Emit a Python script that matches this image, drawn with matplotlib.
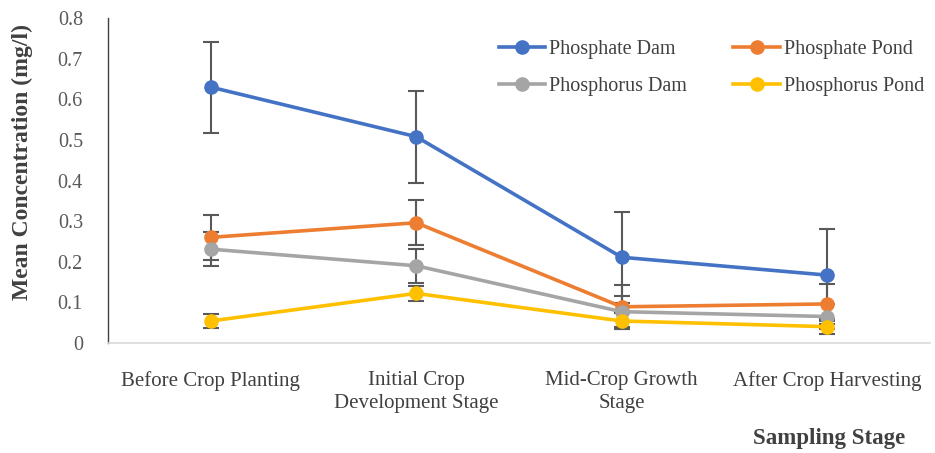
import numpy as np
import matplotlib
matplotlib.use("Agg")
import matplotlib.pyplot as plt

plt.rcParams["font.family"] = ["Liberation Serif", "DejaVu Serif"]

# --- dados: concentração média por estágio de amostragem ---
estagios = ["Before Crop Planting", "Initial Crop\nDevelopment Stage",
            "Mid-Crop Growth\nStage", "After Crop Harvesting"]

fosfato_barragem = [0.630, 0.508, 0.211, 0.167]
fosfato_barragem_err = [0.112, 0.113, 0.112, 0.113]

fosfato_lagoa = [0.260, 0.296, 0.089, 0.096]
fosfato_lagoa_err = [0.055, 0.056, 0.054, 0.050]

fosforo_barragem = [0.231, 0.190, 0.077, 0.065]
fosforo_barragem_err = [0.041, 0.042, 0.038, 0.030]

fosforo_lagoa = [0.054, 0.122, 0.054, 0.040]
fosforo_lagoa_err = [0.018, 0.018, 0.020, 0.019]

series = [
    ("Phosphate Dam", fosfato_barragem, fosfato_barragem_err, "#4472C4"),
    ("Phosphate Pond", fosfato_lagoa, fosfato_lagoa_err, "#ED7D31"),
    ("Phosphorus Dam", fosforo_barragem, fosforo_barragem_err, "#A5A5A5"),
    ("Phosphorus Pond", fosforo_lagoa, fosforo_lagoa_err, "#FFC000"),
]

fig = plt.figure(figsize=(9.35, 4.53), dpi=100)
ax = fig.add_axes([0.1155, 0.243, 0.879, 0.717])

x = np.arange(len(estagios))
linhas = []
for i, (nome, valores, erros, cor) in enumerate(series):
    ax.errorbar(x, valores, yerr=erros, fmt="none", ecolor="#595959",
                elinewidth=1.5, capsize=6, capthick=1.5, zorder=2 + i * 0.1)
    ln, = ax.plot(x, valores, color=cor, linewidth=2.6, marker="o",
                  markersize=9.5, label=nome, zorder=3 + i * 0.1)
    linhas.append(ln)

ax.set_xlim(-0.5, 3.5)
ax.set_ylim(0, 0.8)
ax.set_yticks(np.arange(0, 0.81, 0.1))
ax.set_yticklabels(["0"] + [f"{v:.1f}" for v in np.arange(0.1, 0.81, 0.1)])
ax.set_xticks(x)
ax.set_xticklabels(estagios, linespacing=1.3)

ax.tick_params(axis="y", length=0, pad=18, labelsize=14.5, labelcolor="#595959")
ax.tick_params(axis="x", length=0, pad=20, labelsize=15, labelcolor="#404040")

for lado in ["top", "right"]:
    ax.spines[lado].set_visible(False)
ax.spines["left"].set_color("#404040")
ax.spines["left"].set_linewidth(1.0)
ax.spines["bottom"].set_color("#D9D9D9")
ax.spines["bottom"].set_linewidth(1.2)

fig.text(0.024, 0.642, "Mean Concentration (mg/l)", rotation=90,
         ha="center", va="center", fontsize=17, fontweight="bold", color="#404040")
fig.text(0.887, 0.033, "Sampling Stage", ha="center", va="center",
         fontsize=16.5, fontweight="bold", color="#404040")

# legenda em duas colunas, preenchida linha a linha
ordem = [0, 2, 1, 3]
leg = ax.legend([linhas[k] for k in ordem], [series[k][0] for k in ordem],
                loc="upper left", bbox_to_anchor=(0.4535, 0.99), ncol=2,
                frameon=False, fontsize=14.5, handlelength=2.3,
                handletextpad=0.2, columnspacing=2.3, labelspacing=0.9)
for txt in leg.get_texts():
    txt.set_color("#404040")

fig.savefig("out.png", dpi=100)
